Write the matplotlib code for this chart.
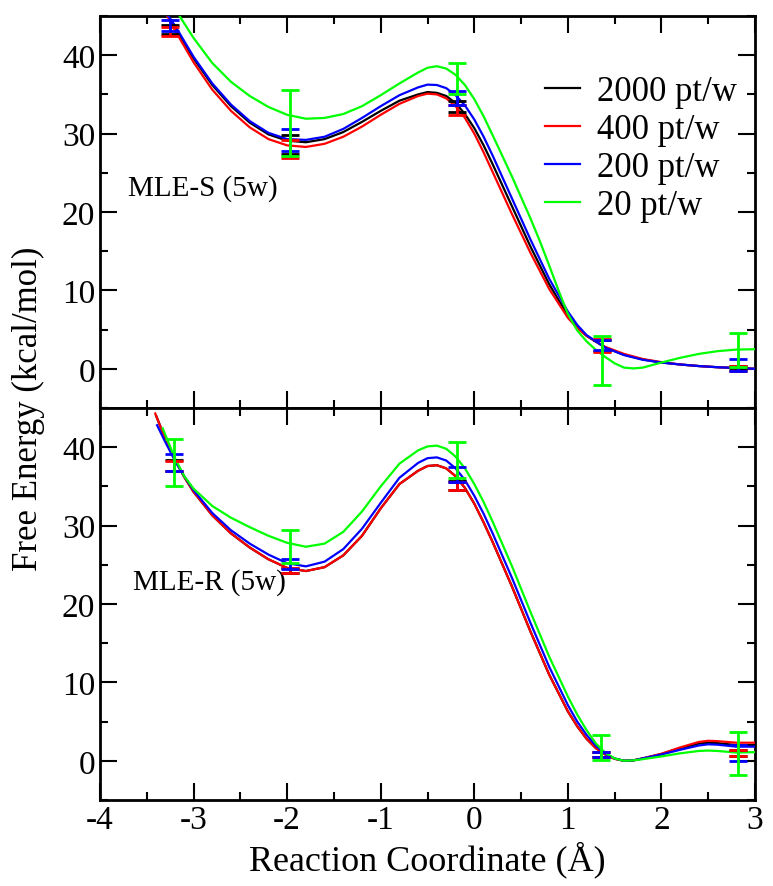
import numpy as np
import matplotlib
matplotlib.use("Agg")
import matplotlib.pyplot as plt
from matplotlib.ticker import MultipleLocator

plt.rcParams['font.family'] = ['Liberation Serif', 'DejaVu Serif']
plt.rcParams['axes.unicode_minus'] = False

## series names and colours
labels = ["2000 pt/w", "400 pt/w", "200 pt/w", "20 pt/w"]
colors = ["#000000", "#ff0000", "#0000ff", "#00ff00"]

## ---------------- top panel: MLE-S (5w) ----------------
s_x = [-3.2, -3.0, -2.8, -2.6, -2.4, -2.2, -2.0, -1.8, -1.6, -1.4, -1.2, -1.0, -0.8, -0.6, -0.5, -0.4, -0.3, -0.2,
       -0.1, 0.0, 0.1, 0.2, 0.4, 0.6, 0.8, 1.0, 1.1, 1.2, 1.4, 1.6, 1.8, 2.0, 2.2, 2.4, 2.6, 2.8, 3.0]
s_x_black = [-3.27] + s_x
s_y_black = [45.0, 43.6, 39.6, 36.2, 33.5, 31.4, 29.9, 29.1, 28.9, 29.3, 30.2, 31.5, 32.9, 34.2, 35.0, 35.3, 35.2, 34.8, 33.9,
             32.5, 30.7, 28.5, 26.0, 20.8, 15.6, 10.8, 6.8, 5.3, 4.2, 2.7, 1.8, 1.2, 0.8, 0.55, 0.35, 0.2, 0.1, 0.0]
s_x_red = [-3.28] + s_x
s_y_red = [45.0, 43.2, 39.1, 35.6, 32.9, 30.8, 29.3, 28.5, 28.3, 28.7, 29.6, 30.9, 32.4, 33.8, 34.8, 35.1, 35.0, 34.5, 33.5,
           32.0, 30.0, 27.6, 25.0, 19.8, 14.8, 10.2, 6.5, 5.2, 4.2, 2.8, 1.9, 1.25, 0.85, 0.55, 0.35, 0.2, 0.1, 0.0]
s_x_blue = [-3.27] + s_x
s_y_blue = [45.0, 43.8, 39.8, 36.4, 33.7, 31.6, 30.1, 29.3, 29.2, 29.6, 30.6, 32.0, 33.5, 34.9, 35.9, 36.25, 36.2, 35.8, 34.9,
            33.6, 31.8, 29.6, 27.1, 21.8, 16.5, 11.5, 7.3, 5.6, 4.3, 2.7, 1.75, 1.15, 0.8, 0.55, 0.35, 0.2, 0.1, 0.0]
s_x_green = [-3.15, -3.0, -2.8, -2.6, -2.4, -2.2, -2.0, -1.8, -1.6, -1.4, -1.2, -1.0, -0.8, -0.6, -0.5, -0.4, -0.3, -0.2,
             -0.1, 0.0, 0.1, 0.2, 0.4, 0.6, 0.7, 0.8, 0.9, 1.0, 1.1, 1.2, 1.3, 1.4, 1.5, 1.6, 1.7, 1.8, 2.0, 2.2, 2.4,
             2.6, 2.8, 3.0]
s_y_green = [45.0, 42.2, 39.0, 36.6, 34.8, 33.4, 32.4, 31.9, 32.0, 32.5, 33.5, 34.9, 36.4, 37.8, 38.4, 38.6, 38.3, 37.5,
             36.2, 34.4, 32.2, 29.7, 24.6, 19.2, 16.3, 13.2, 10.0, 7.0, 4.9, 3.5, 2.4, 1.5, 0.7, 0.15, 0.05, 0.15, 0.8,
             1.4, 1.9, 2.25, 2.45, 2.5]

s_err_x = [-3.25, -1.97, -0.18, 1.36, 2.82]
s_err_black = [43.3, 28.6, 33.5, 3.0, 0.1]
s_dev_black = [0.6, 1.2, 0.7, 0.7, 0.3]
s_err_red = [43.0, 28.05, 33.0, 3.0, 0.0]
s_dev_red = [0.6, 1.15, 0.65, 0.8, 0.3]
s_err_blue = [43.8, 29.2, 34.55, 3.05, 0.45]
s_dev_blue = [0.7, 1.4, 0.95, 0.65, 0.75]
s_err_green = [48.0, 31.4, 37.0, 1.05, 2.4]
s_dev_green = [2.0, 4.2, 2.0, 3.15, 2.2]

## ---------------- bottom panel: MLE-R (5w) ----------------
r_x = [-3.3, -3.2, -3.1, -3.0, -2.8, -2.6, -2.4, -2.2, -2.0, -1.8, -1.6, -1.4, -1.2, -1.0, -0.8, -0.6, -0.5, -0.4,
       -0.3, -0.2, -0.1, 0.0, 0.1, 0.2, 0.4, 0.6, 0.8, 1.0, 1.1, 1.2, 1.3, 1.4, 1.5, 1.6, 1.7, 1.8, 2.0, 2.2, 2.4,
       2.5, 2.6, 2.8, 3.0]
r_x_black = [-3.4] + r_x
r_y_black = [44.0, 41.0, 38.4, 36.2, 34.3, 31.3, 29.0, 27.2, 25.7, 24.6, 24.2, 24.7, 26.2, 28.7, 32.2, 35.3, 37.0, 37.6,
             37.7, 37.3, 36.3, 34.8, 32.8, 30.4, 27.8, 22.3, 16.5, 11.0, 6.3, 4.4, 2.8, 1.6, 0.8, 0.25, 0.0, 0.05, 0.3,
             0.85, 1.6, 2.2, 2.3, 2.25, 2.0, 2.0]
r_x_red = [-3.41] + r_x
r_y_red = [44.3, 41.0, 38.4, 36.2, 34.3, 31.3, 29.0, 27.2, 25.7, 24.6, 24.2, 24.7, 26.2, 28.7, 32.2, 35.3, 37.0, 37.6,
           37.7, 37.3, 36.3, 34.8, 32.8, 30.4, 27.8, 22.3, 16.5, 11.0, 6.3, 4.4, 2.8, 1.6, 0.8, 0.25, 0.0, 0.05, 0.3,
           0.9, 1.7, 2.4, 2.55, 2.5, 2.3, 2.3]
r_x_blue = [-3.39] + r_x
r_y_blue = [42.8, 40.6, 38.3, 36.3, 34.5, 31.6, 29.4, 27.7, 26.3, 25.2, 24.8, 25.4, 27.0, 29.6, 32.9, 36.1, 38.0, 38.6,
            38.7, 38.3, 37.3, 35.8, 33.8, 31.5, 28.9, 23.4, 17.6, 12.0, 7.1, 5.0, 3.3, 1.9, 0.9, 0.3, 0.0, 0.05, 0.3,
            0.8, 1.4, 1.95, 2.1, 2.05, 1.8, 1.8]
r_x_green = [-3.33] + r_x[1:]
r_y_green = [42.4, 38.6, 36.3, 34.7, 32.5, 31.0, 29.8, 28.7, 27.8, 27.3, 27.7, 29.2, 31.8, 35.0, 37.9, 39.6, 40.1,
             40.2, 39.8, 38.8, 37.3, 35.3, 33.0, 30.4, 24.9, 19.0, 13.3, 8.2, 5.9, 3.9, 2.2, 1.0, 0.3, 0.0, 0.05, 0.2,
             0.55, 0.95, 1.25, 1.3, 1.25, 1.05, 1.1]

r_err_x = [-3.21, -1.97, -0.18, 1.35, 2.82]
r_err_black = [37.7, 24.3, 35.1, 0.8, 1.0]
r_dev_black = [0.7, 0.3, 0.6, 0.3, 0.4]
r_err_red = [37.65, 24.3, 35.05, 0.8, 1.0]
r_dev_red = [0.65, 0.3, 0.55, 0.3, 0.4]
r_err_blue = [38.05, 25.1, 36.55, 0.8, 1.0]
r_dev_blue = [1.05, 0.6, 0.95, 0.3, 1.0]
r_err_green = [38.0, 27.35, 38.4, 1.7, 0.95]
r_dev_green = [3.0, 2.15, 2.3, 1.6, 2.75]

fig = plt.figure(figsize=(7.73, 8.87), dpi=100)
gs = fig.add_gridspec(2, 1, left=0.1294, right=0.9767, top=0.9808, bottom=0.097, hspace=0)
ax1 = fig.add_subplot(gs[0])
ax2 = fig.add_subplot(gs[1], sharex=ax1)

def draw_panel(ax, curves, errs, err_x):
    for (cx, cy), col, lab in zip(curves, colors, labels):
        ax.plot(cx, cy, color=col, lw=1.6, label=lab, zorder=3)
    for (ey, ed), col in zip(errs, colors):
        ax.errorbar(err_x, ey, yerr=ed, fmt='none', ecolor=col, elinewidth=2,
                    capsize=6.5, capthick=2, zorder=4)

draw_panel(ax1,
           [(s_x_black, s_y_black), (s_x_red, s_y_red), (s_x_blue, s_y_blue), (s_x_green, s_y_green)],
           [(s_err_black, s_dev_black), (s_err_red, s_dev_red), (s_err_blue, s_dev_blue), (s_err_green, s_dev_green)],
           s_err_x)
draw_panel(ax2,
           [(r_x_black, r_y_black), (r_x_red, r_y_red), (r_x_blue, r_y_blue), (r_x_green, r_y_green)],
           [(r_err_black, r_dev_black), (r_err_red, r_dev_red), (r_err_blue, r_dev_blue), (r_err_green, r_dev_green)],
           r_err_x)

for ax in (ax1, ax2):
    ax.set_xlim(-4, 3)
    ax.set_ylim(-5, 45)
    ax.xaxis.set_major_locator(MultipleLocator(1))
    ax.xaxis.set_minor_locator(MultipleLocator(0.5))
    ax.yaxis.set_major_locator(MultipleLocator(10))
    ax.yaxis.set_minor_locator(MultipleLocator(5))
    ax.tick_params(which='both', direction='in', top=True, right=True, width=1.5, labelsize=24)
    ax.tick_params(which='major', length=12)
    ax.tick_params(which='minor', length=6)
    for sp in ax.spines.values():
        sp.set_linewidth(2)
    ax.set_yticks([0, 10, 20, 30, 40])

ax1.tick_params(labelbottom=False)

ax1.text(0.043, 0.563, "MLE-S (5w)", transform=ax1.transAxes, fontsize=21, va='center', ha='left')
ax2.text(0.05, 0.557, "MLE-R (5w)", transform=ax2.transAxes, fontsize=21, va='center', ha='left')

leg = ax1.legend(loc='upper left', bbox_to_anchor=(0.68, 0.85), frameon=False, fontsize=25,
                 handlelength=1.0, handletextpad=0.5, labelspacing=0.15, borderpad=0, borderaxespad=0)

ax2.set_xlabel("Reaction Coordinate (Å)", fontsize=26, labelpad=4)
fig.text(0.037, 0.539, "Free Energy (kcal/mol)", rotation=90, fontsize=25, ha='center', va='center')

fig.savefig("out.png", dpi=100)
